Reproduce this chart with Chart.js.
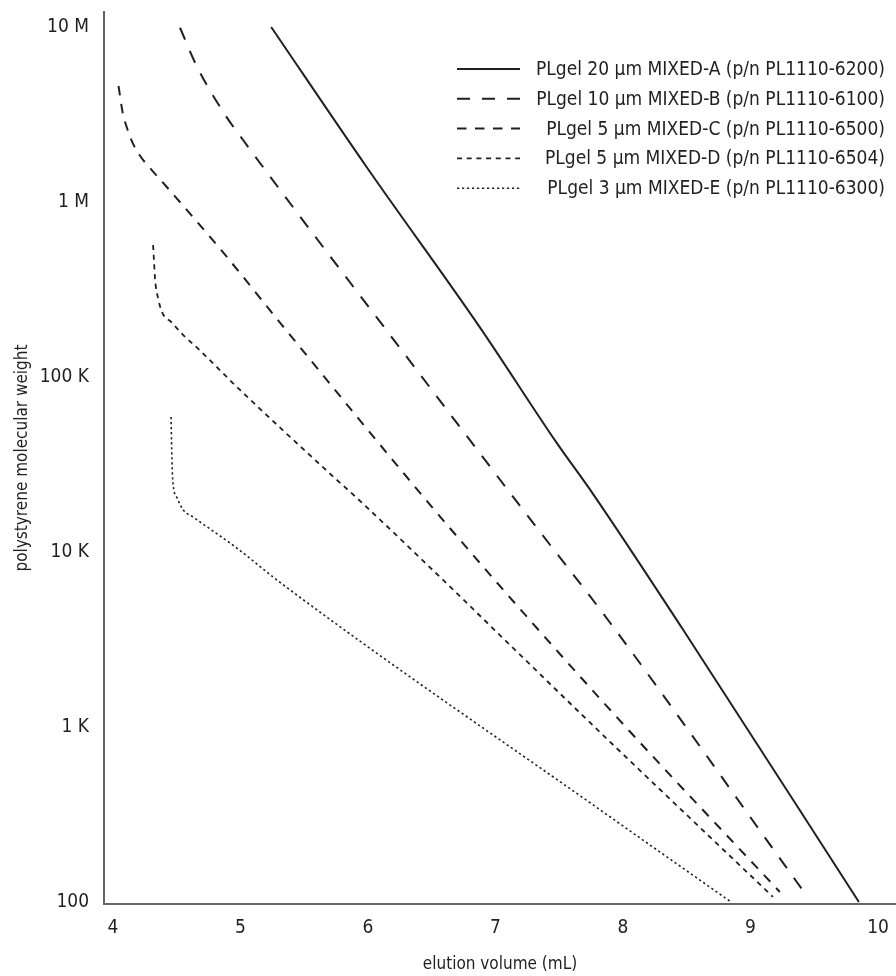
<!DOCTYPE html>
<html>
<head>
<meta charset="utf-8">
<script src="https://cdn.jsdelivr.net/npm/chart.js@4.4.1/dist/chart.umd.min.js"></script>
<style>
  html, body { margin: 0; padding: 0; background: #fff; }
  canvas { display: block; }
</style>
</head>
<body>
<canvas id="calChart" width="896" height="976"></canvas>
<script>
// axis ticks
const xTickValues = [4, 5, 6, 7, 8, 9, 10];
const yTickValues = [100, 1000, 10000, 100000, 1000000, 10000000];
const yTickLabels = ['100', '1 K', '10 K', '100 K', '1 M', '10 M'];

// series labels
const seriesLabels = [
  'PLgel 20 µm MIXED-A (p/n PL1110-6200)',
  'PLgel 10 µm MIXED-B (p/n PL1110-6100)',
  'PLgel 5 µm MIXED-C (p/n PL1110-6500)',
  'PLgel 5 µm MIXED-D (p/n PL1110-6504)',
  'PLgel 3 µm MIXED-E (p/n PL1110-6300)'
];

// calibration curves: elution volume (mL) vs polystyrene MW
const elutionA = [5.24, 5.99, 6.88, 7.48, 7.76, 8.46, 9.85];
const mwA = [1.0e7, 1.58e6, 1.91e5, 4.2e4, 2.17e4, 3.7e3, 100];

const elutionB = [4.525, 4.66, 4.88, 5.02, 5.47, 6.13, 7.29, 7.90, 9.37, 9.42];
const mwB = [9.9e6, 5.9e6, 3.14e6, 2.26e6, 8.2e5, 1.91e5, 1.48e4, 3.93e3, 128, 114];

const elutionC = [4.043, 4.076, 4.107, 4.151, 4.206, 4.284, 4.408, 4.865, 5.325, 6.62, 7.90, 9.23];
const mwC = [4.6e6, 3.23e6, 2.68e6, 2.2e6, 1.86e6, 1.58e6, 1.25e6, 5.13e5, 1.98e5, 1.43e4, 1.25e3, 114];

const elutionD = [4.314, 4.322, 4.33, 4.353, 4.384, 4.463, 4.549, 4.659, 4.996, 5.686, 5.953, 7.90, 9.176];
const mwD = [5.68e5, 4.48e5, 3.58e5, 2.82e5, 2.35e5, 2.04e5, 1.74e5, 1.47e5, 8.43e4, 2.87e4, 1.91e4, 820, 107];

const elutionE = [4.455, 4.46, 4.468, 4.499, 4.551, 4.63, 4.973, 5.31, 7.90, 8.847];
const mwE = [5.9e4, 3.83e4, 2.58e4, 2.06e4, 1.74e4, 1.58e4, 1.05e4, 6.7e3, 306, 100];

const ink = '#231f20';
const fontFamily = "'Liberation Sans Narrow', 'DejaVu Sans Condensed', 'Roboto Condensed', sans-serif";

function toPoints(xs, ys) {
  return xs.map((x, i) => ({ x: x, y: ys[i] }));
}

function makeSet(label, xs, ys, dash, width) {
  return {
    label: label,
    data: toPoints(xs, ys),
    borderColor: ink,
    borderWidth: width,
    borderDash: dash,
    pointRadius: 0,
    fill: false,
    cubicInterpolationMode: 'monotone'
  };
}

// legend drawn at the top right, line sample on the left, text right aligned
const sideLegend = {
  id: 'sideLegend',
  afterDraw(chart) {
    const ctx = chart.ctx;
    const lineStart = 457, lineEnd = 520, textRight = 885;
    const top = 69, gap = 29.8;
    ctx.save();
    ctx.font = '19px ' + fontFamily;
    ctx.fillStyle = ink;
    ctx.textAlign = 'right';
    ctx.textBaseline = 'middle';
    chart.data.datasets.forEach((ds, i) => {
      const y = top + i * gap;
      ctx.strokeStyle = ds.borderColor;
      ctx.lineWidth = ds.borderWidth;
      ctx.setLineDash(ds.borderDash || []);
      ctx.beginPath();
      ctx.moveTo(lineStart, y);
      ctx.lineTo(lineEnd, y);
      ctx.stroke();
      ctx.setLineDash([]);
      ctx.fillText(ds.label, textRight, y + 1);
    });
    ctx.restore();
  }
};

new Chart(document.getElementById('calChart'), {
  type: 'line',
  data: {
    datasets: [
      makeSet(seriesLabels[0], elutionA, mwA, [], 2),
      makeSet(seriesLabels[1], elutionB, mwB, [13, 12], 2),
      makeSet(seriesLabels[2], elutionC, mwC, [9.5, 8.5], 2),
      makeSet(seriesLabels[3], elutionD, mwD, [5, 4.7], 1.8),
      makeSet(seriesLabels[4], elutionE, mwE, [2.2, 2.8], 1.6)
    ]
  },
  options: {
    responsive: false,
    animation: false,
    layout: { padding: { top: 12, left: 0, right: 0, bottom: 0 } },
    plugins: {
      legend: { display: false },
      tooltip: { enabled: false }
    },
    scales: {
      x: {
        type: 'linear',
        min: 3.929,
        max: 10.141,
        grid: { display: false, drawTicks: false, tickLength: 0 },
        border: { display: true, color: '#666666', width: 2 },
        afterBuildTicks(scale) {
          scale.ticks = xTickValues.map(v => ({ value: v }));
        },
        afterFit(scale) {
          scale.height = 72;
          scale.paddingLeft = 0;
          scale.paddingRight = 0;
        },
        ticks: {
          color: ink,
          padding: 13,
          font: { family: fontFamily, size: 19 },
          maxRotation: 0,
          callback: v => String(v)
        },
        title: {
          display: true,
          text: 'elution volume (mL)',
          color: ink,
          font: { family: fontFamily, size: 17 },
          padding: { top: 0, bottom: 1 }
        }
      },
      y: {
        type: 'logarithmic',
        min: 97.4,
        max: 1.218e7,
        grid: { display: false, drawTicks: false, tickLength: 0 },
        border: { display: true, color: '#666666', width: 2 },
        afterBuildTicks(scale) {
          scale.ticks = yTickValues.map(v => ({ value: v }));
        },
        afterFit(scale) {
          scale.width = 104;
          scale.paddingTop = 0;
          scale.paddingBottom = 0;
        },
        ticks: {
          color: ink,
          padding: 15,
          font: { family: fontFamily, size: 19 },
          callback: function (v) {
            const i = yTickValues.indexOf(v);
            return i >= 0 ? yTickLabels[i] : '';
          }
        },
        title: {
          display: true,
          text: 'polystyrene molecular weight',
          color: ink,
          font: { family: fontFamily, size: 17 },
          padding: { top: 12, bottom: 0 }
        }
      }
    }
  },
  plugins: [sideLegend]
});
</script>
</body>
</html>
